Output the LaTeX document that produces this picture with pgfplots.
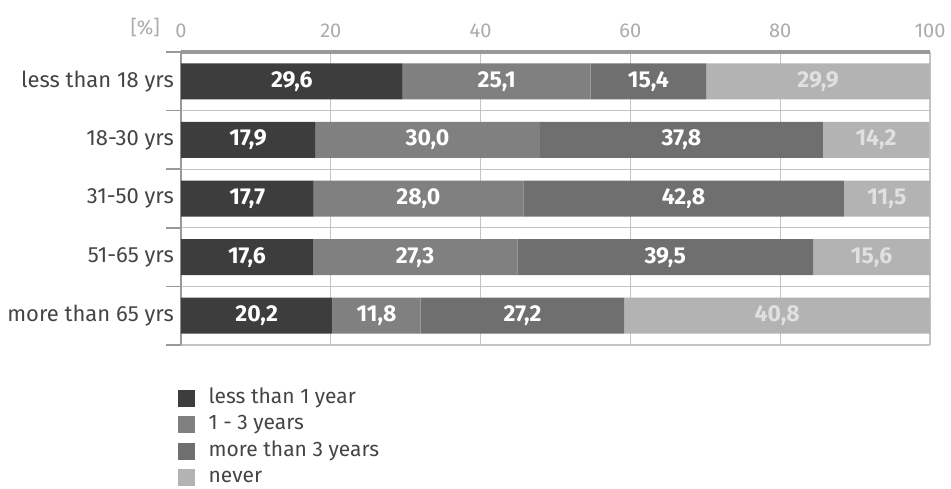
\documentclass[border=0pt]{standalone}
\usepackage{pgfplots}
\pgfplotsset{compat=1.18}
\usepackage{pgfplotstable}
\usepackage{fontspec}
\setmainfont{Fira Sans}
\definecolor{cA}{HTML}{3D3D3D}
\definecolor{cB}{HTML}{808080}
\definecolor{cC}{HTML}{6F6F6F}
\definecolor{cD}{HTML}{B3B3B3}
\definecolor{tickc}{HTML}{ABABAB}
\definecolor{lblc}{HTML}{444444}
\definecolor{axc}{HTML}{999999}
\definecolor{gridc}{HTML}{C4C4C4}
\pgfplotstableread{
idx a b c d
0 29.6 25.1 15.4 29.9
1 17.9 30.0 37.8 14.2
2 17.7 28.0 42.8 11.5
3 17.6 27.3 39.5 15.6
4 20.2 11.8 27.2 40.8
}\data
\begin{document}
\begin{tikzpicture}[font=\fontsize{10}{12}\selectfont]
\useasboundingbox (-90.5pt,-71.5pt) rectangle (385pt,172.5pt);
\pgfplotsset{common/.style={width=374.5pt,height=146.5pt,scale only axis,
  xmin=0,xmax=100,ymin=-0.5,ymax=4.5,y dir=reverse,
  /pgf/number format/assume math mode=true},
  sq/.style={legend image code/.code={\fill[##1] (0pt,-4.2pt) rectangle (8.5pt,4.2pt);}}}
\begin{axis}[common, xbar stacked, bar width=18pt,
  axis x line*=top, axis y line*=left,
  x axis line style={-, line width=2pt, color=axc},
  y axis line style={-, line width=0.6pt, color=axc},
  xtick={0,20,...,100},
  xticklabel style={text=tickc, font=\fontsize{10}{11}\selectfont, yshift=3.5pt},
  ytick={0,...,4},
  yticklabels={less than 18 yrs, 18-30 yrs, 31-50 yrs, 51-65 yrs, more than 65 yrs},
  yticklabel style={text=lblc, font=\fontsize{11}{12}\selectfont},
  minor ytick={-0.5,0.5,...,4.5},
  major tick length=0pt, minor tick length=7.5pt, tick align=outside,
  minor tick style={color=axc, line width=0.8pt},
  xmajorgrids, yminorgrids,
  major grid style={color=gridc, line width=0.6pt},
  minor grid style={color=gridc, line width=0.6pt},
  legend style={at={(rel axis cs:-0.005,-0.15)}, anchor=north west, draw=none, fill=none,
    inner sep=0pt, row sep=4.2pt, column sep=7pt, font=\fontsize{10.5}{12}\selectfont, text=lblc,
    nodes={inner sep=0pt, text height=7pt, text depth=2pt}},
  legend cell align=left,
]
\addplot[fill=cA, draw=none, sq] table[x=a, y=idx]{\data};
\addlegendentry{less than 1 year}
\addplot[fill=cB, draw=none, sq] table[x=b, y=idx]{\data};
\addlegendentry{1 - 3 years}
\addplot[fill=cC, draw=none, sq] table[x=c, y=idx]{\data};
\addlegendentry{more than 3 years}
\addplot[fill=cD, draw=none, sq] table[x=d, y=idx]{\data};
\addlegendentry{never}
\end{axis}
\begin{axis}[common, hide axis, clip=false,
  nodes near coords={\pgfmathprintnumber[fixed,fixed zerofill,precision=1,use comma]{\pgfplotspointmeta}},
  every node near coord/.style={anchor=center, text=white, font=\bfseries\fontsize{11.5}{13}\selectfont},
  point meta=explicit]
\addplot[draw=none, mark=none] table[x expr=\thisrow{a}/2, y=idx, meta=a]{\data};
\addplot[draw=none, mark=none] table[x expr=\thisrow{a}+\thisrow{b}/2, y=idx, meta=b]{\data};
\addplot[draw=none, mark=none] table[x expr=\thisrow{a}+\thisrow{b}+\thisrow{c}/2, y=idx, meta=c]{\data};
\addplot[draw=none, mark=none, every node near coord/.append style={text=white!88!black}] table[x expr=\thisrow{a}+\thisrow{b}+\thisrow{c}+\thisrow{d}/2, y=idx, meta=d]{\data};
\end{axis}
\node[anchor=east, text=tickc, font=\fontsize{10}{11}\selectfont] at (-7pt,159pt) {[\%]};
\end{tikzpicture}
\end{document}
